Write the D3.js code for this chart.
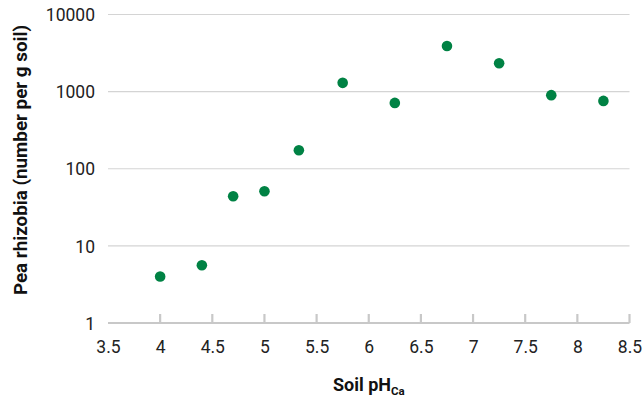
<!DOCTYPE html>
<html>
<head>
<meta charset="utf-8">
<script src="https://cdn.jsdelivr.net/npm/d3@7"></script>
<style>
  html, body { margin: 0; padding: 0; background: #fff; }
  svg { display: block; }
  text { font-family: Roboto, "Open Sans", sans-serif; }
</style>
</head>
<body>
<svg id="chart" width="644" height="400"></svg>
<script>
const ph = [4.0, 4.4, 4.7, 5.0, 5.33, 5.75, 6.25, 6.75, 7.25, 7.75, 8.25];
const rhizobia = [4.0, 5.6, 44, 51, 174, 1300, 714, 3900, 2330, 900, 758];
const xTicks = [3.5, 4, 4.5, 5, 5.5, 6, 6.5, 7, 7.5, 8, 8.5];
const yTicks = [1, 10, 100, 1000, 10000];

const svg = d3.select("#chart");
const x = d3.scaleLinear().domain([3.5, 8.5]).range([108, 629.5]);
const y = d3.scaleLog().domain([1, 10000]).range([323, 14.5]);

// gridlines
svg.append("g").selectAll("line").data(yTicks.slice(1)).join("line")
  .attr("x1", x(3.5)).attr("x2", x(8.5))
  .attr("y1", d => y(d)).attr("y2", d => y(d))
  .attr("stroke", "#d4d4d4").attr("stroke-width", 1.2);

// y axis labels
const yAxis = d3.axisLeft(y).tickValues(yTicks).tickFormat(d3.format("d")).tickSize(0).tickPadding(0);
const ya = svg.append("g").attr("transform", `translate(95,0)`).call(yAxis);
ya.select(".domain").remove();
ya.selectAll("text").attr("font-size", 17.5).attr("fill", "#222").attr("font-family", "Roboto, sans-serif").attr("dy", "0.35em");

// x axis
const xAxis = d3.axisBottom(x).tickValues(xTicks).tickFormat(d => String(d)).tickSize(0).tickPadding(0);
const xa = svg.append("g").attr("transform", `translate(0,${y(1)})`).call(xAxis);
xa.select(".domain").remove();
xa.selectAll("text").attr("font-size", 17.5).attr("fill", "#222").attr("font-family", "Roboto, sans-serif").attr("y", 30).attr("dy", 0);

svg.append("line").attr("x1", x(3.5)).attr("x2", x(8.5)).attr("y1", y(1)).attr("y2", y(1))
  .attr("stroke", "#c8c8c8").attr("stroke-width", 2.2);
svg.append("g").selectAll("line").data(xTicks.slice(1)).join("line")
  .attr("x1", d => x(d)).attr("x2", d => x(d))
  .attr("y1", y(1)).attr("y2", y(1) - 9)
  .attr("stroke", "#c8c8c8").attr("stroke-width", 2.2);

// points
svg.append("g").selectAll("circle").data(ph).join("circle")
  .attr("cx", d => x(d)).attr("cy", (d, i) => y(rhizobia[i]))
  .attr("r", 5.3).attr("fill", "#008244");

// axis titles
svg.append("text").attr("transform", "translate(27,160) rotate(-90)")
  .attr("text-anchor", "middle").attr("font-size", 18.8).attr("font-weight", "bold").attr("fill", "#111")
  .text("Pea rhizobia (number per g soil)");

const xt = svg.append("text").attr("x", 333).attr("y", 391)
  .attr("font-size", 18).attr("font-weight", "bold").attr("fill", "#111");
xt.append("tspan").text("Soil pH");
xt.append("tspan").attr("font-size", 11.5).attr("dy", 4).text("Ca");
</script>
</body>
</html>
